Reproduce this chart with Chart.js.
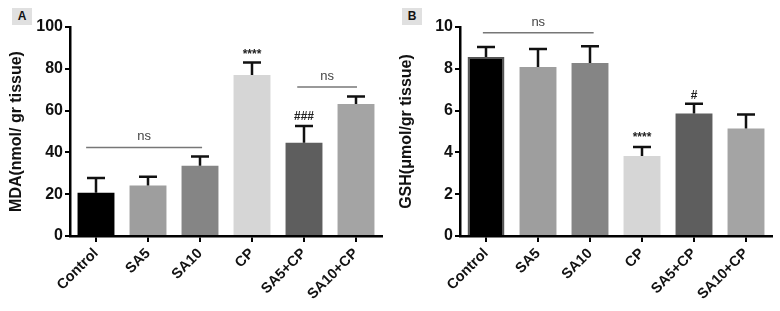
<!DOCTYPE html>
<html>
<head>
<meta charset="utf-8">
<script src="https://cdn.jsdelivr.net/npm/chart.js@4.4.0/dist/chart.umd.min.js"></script>
<style>
  body { margin: 0; background: #fff; width: 780px; height: 311px; overflow: hidden; position: relative; }
  .panel { position: absolute; top: 0; width: 390px; height: 311px; }
  .tag { position: absolute; top: 8px; left: 12px; width: 20px; height: 17px; background: #e0e0e0;
         font: bold 12px "Liberation Sans", Arial, sans-serif; text-align: center; line-height: 17px; color: #111; }
</style>
</head>
<body>
<div class="panel" style="left:0"><canvas id="chartA" width="390" height="311"></canvas><div class="tag">A</div></div>
<div class="panel" style="left:390px"><canvas id="chartB" width="390" height="311"></canvas><div class="tag">B</div></div>
<script>
const grupos = ['Control', 'SA5', 'SA10', 'CP', 'SA5+CP', 'SA10+CP'];
const colores = ['#000000', '#9e9e9e', '#858585', '#d6d6d6', '#5e5e5e', '#a4a4a4'];

const mdaValores = [20.7, 24.2, 33.6, 77.0, 44.6, 63.2];
const mdaError = [7.0, 4.1, 4.4, 6.0, 8.0, 3.5];
const mdaTicks = [0, 20, 40, 60, 80, 100];

const gshValores = [8.56, 8.09, 8.28, 3.83, 5.86, 5.14];
const gshError = [0.48, 0.86, 0.80, 0.43, 0.47, 0.67];
const gshTicks = [0, 2, 4, 6, 8, 10];

// lineas de significancia: [texto, desde, hasta, nivel]
const mdaLineas = [['ns', -0.19, 2.04, 42.4], ['ns', 3.87, 5.02, 71.3]];
const gshLineas = [['ns', -0.06, 2.07, 9.73]];
// marcas sobre barras: [indice, texto, nivel]
const mdaMarcas = [[3, '****', 86.6], [4, '###', 57.0]];
const gshMarcas = [[3, '****', 4.72], [4, '#', 6.73]];

const fuente = '"Liberation Sans", Arial, sans-serif';

const extras = {
  id: 'extras',
  afterDatasetsDraw(chart, args, opts) {
    const ctx = chart.ctx;
    const x = chart.scales.x, y = chart.scales.y;
    ctx.save();
    ctx.strokeStyle = '#111';
    ctx.lineWidth = 2.5;
    opts.val.forEach((v, i) => {
      const cx = x.getPixelForValue(i);
      const base = y.getPixelForValue(v);
      const top = y.getPixelForValue(v + opts.err[i]);
      ctx.beginPath();
      ctx.moveTo(cx, base); ctx.lineTo(cx, top);
      ctx.moveTo(cx - 9, top); ctx.lineTo(cx + 9, top);
      ctx.stroke();
    });
    ctx.strokeStyle = '#777';
    ctx.lineWidth = 1.5;
    ctx.fillStyle = '#444';
    ctx.textAlign = 'center';
    ctx.textBaseline = 'bottom';
    ctx.font = '13px ' + fuente;
    opts.lineas.forEach(([t, a, b, nivel]) => {
      const yy = y.getPixelForValue(nivel);
      const x1 = x.getPixelForValue(a), x2 = x.getPixelForValue(b);
      ctx.beginPath(); ctx.moveTo(x1, yy); ctx.lineTo(x2, yy); ctx.stroke();
      ctx.fillText(t, (x1 + x2) / 2, yy - 4);
    });
    ctx.fillStyle = '#222';
    ctx.textBaseline = 'middle';
    ctx.font = 'bold 12px ' + fuente;
    opts.marcas.forEach(([i, t, nivel]) => {
      ctx.fillText(t, x.getPixelForValue(i), y.getPixelForValue(nivel));
    });
    ctx.restore();
  }
};

function grafico(id, valores, errores, ticks, titulo, lineas, marcas, borde) {
  const ctx = document.getElementById(id).getContext('2d');
  return new Chart(ctx, {
    type: 'bar',
    data: {
      labels: grupos,
      datasets: [{
        data: valores,
        backgroundColor: colores,
        borderColor: borde,
        borderWidth: borde.map(c => c ? 2 : 0),
        borderSkipped: 'bottom',
        barPercentage: 0.71,
        categoryPercentage: 1
      }]
    },
    options: {
      responsive: false,
      animation: false,
      layout: { padding: { top: 27, right: 8, left: 0, bottom: 0 } },
      plugins: {
        legend: { display: false },
        tooltip: { enabled: false },
        extras: { val: valores, err: errores, lineas: lineas, marcas: marcas }
      },
      scales: {
        x: {
          afterFit(s) { s.height = 75; },
          border: { color: '#000', width: 2.5 },
          grid: { offset: false, drawOnChartArea: false, drawTicks: true, tickLength: 6, color: '#000', lineWidth: 2 },
          ticks: { color: '#111', font: { family: fuente, size: 14.5, weight: 'bold' }, minRotation: 45, maxRotation: 45, padding: 3 }
        },
        y: {
          min: ticks[0],
          max: ticks[ticks.length - 1],
          afterFit(s) { s.width = 70; },
          afterBuildTicks(s) { s.ticks = ticks.map(v => ({ value: v })); },
          border: { color: '#000', width: 2.5 },
          grid: { drawOnChartArea: false, drawTicks: true, tickLength: 5, color: '#000', lineWidth: 2 },
          ticks: { color: '#111', font: { family: fuente, size: 16, weight: 'bold' }, padding: 2 },
          title: { display: true, text: titulo, color: '#111', font: { family: fuente, size: 16, weight: 'bold' }, padding: { top: 7, bottom: 0 } }
        }
      }
    },
    plugins: [extras]
  });
}

grafico('chartA', mdaValores, mdaError, mdaTicks, 'MDA(nmol/ gr tissue)', mdaLineas, mdaMarcas, [null, null, null, null, null, null]);
grafico('chartB', gshValores, gshError, gshTicks, 'GSH(\u03bcmol/gr tissue)', gshLineas, gshMarcas, ['#555', null, null, null, null, null]);
</script>
</body>
</html>
